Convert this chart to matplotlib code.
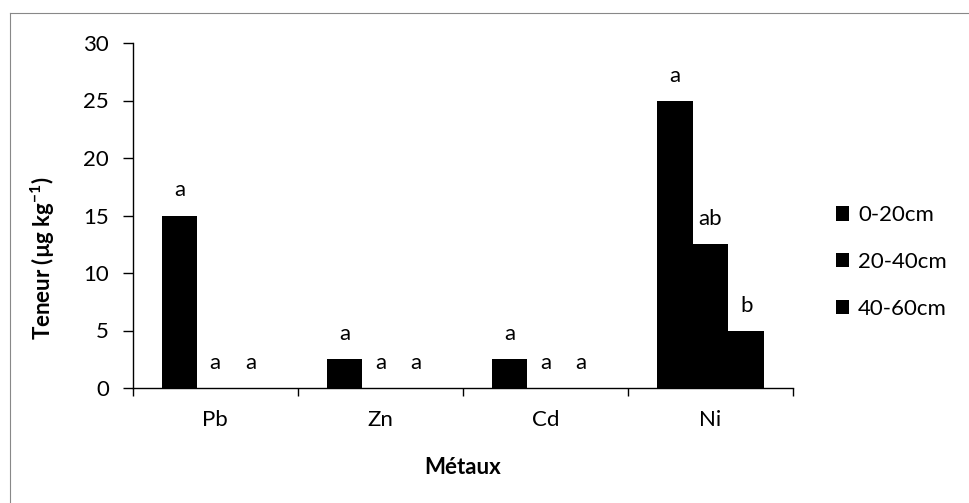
import matplotlib
matplotlib.use("Agg")
import matplotlib.pyplot as plt
import numpy as np
from matplotlib.lines import Line2D
from matplotlib.patches import Patch

plt.rcParams['font.family'] = ['Lato', 'DejaVu Sans']
plt.rcParams['mathtext.fontset'] = 'custom'
plt.rcParams['mathtext.rm'] = 'Lato'
plt.rcParams['mathtext.bf'] = 'Lato:bold'

categories = ["Pb", "Zn", "Cd", "Ni"]
series_names = ["0-20cm", "20-40cm", "40-60cm"]
v_0_20 = [15, 2.5, 2.5, 25]
v_20_40 = [0, 0, 0, 12.5]
v_40_60 = [0, 0, 0, 5]
letters_0_20 = ["a", "a", "a", "a"]
letters_20_40 = ["a", "a", "a", "ab"]
letters_40_60 = ["a", "a", "a", "b"]
yticks = [0, 5, 10, 15, 20, 25, 30]

FS = 16
W, H = 969, 503
fig = plt.figure(figsize=(W / 100, H / 100), dpi=100)
ax = fig.add_axes([132.7 / W, 1 - 388 / H, (793 - 132.7) / W, (388 - 43) / H])

x = np.arange(len(categories))
bw = 0.217
series = [v_0_20, v_20_40, v_40_60]
letters = [letters_0_20, letters_20_40, letters_40_60]
offsets = [-bw, 0, bw]
for vals, lets, off, name in zip(series, letters, offsets, series_names):
    ax.bar(x + off, vals, width=bw, color='black', edgecolor='none', label=name)
    for xi, v, l in zip(x, vals, lets):
        ax.annotate(l, (xi + off, v), xytext=(0, 18), textcoords='offset points',
                    ha='center', va='center', fontsize=FS, color='black')

ax.set_xlim(-0.5, len(categories) - 0.5)
ax.set_ylim(0, 30)
ax.set_yticks(yticks)
ax.set_xticks(x)
ax.set_xticklabels(categories)
ax.set_xticks(np.arange(len(categories) + 1) - 0.5, minor=True)
ax.tick_params(axis='x', which='major', length=0, pad=16, labelsize=FS)
ax.tick_params(axis='x', which='minor', length=6, direction='out', width=1)
ax.tick_params(axis='y', which='major', length=7, direction='out', width=1, pad=10, labelsize=FS)
for s in ['top', 'right']:
    ax.spines[s].set_visible(False)
for s in ['left', 'bottom']:
    ax.spines[s].set_linewidth(1)
    ax.spines[s].set_color('black')

fig.text(463 / W, 1 - 468 / H, "Métaux", ha='center', va='center', fontsize=FS, fontweight='bold')
fig.text(43 / W, 1 - 258 / H, r"Teneur (µg kg$^{\mathbf{-1}}$)", ha='center', va='center',
         rotation=90, fontsize=FS, fontweight='bold')

handles = [Patch(facecolor='black', edgecolor='none') for _ in series_names]
fig.legend(handles, series_names, loc='center left', bbox_to_anchor=(836 / W, 1 - 262 / H),
           frameon=False, fontsize=FS, handlelength=0.6, handleheight=0.6,
           handletextpad=0.4, labelspacing=1.2, borderpad=0, borderaxespad=0)

# outer chart border (gray thin lines)
fig.add_artist(Line2D([10 / W, 10 / W], [0, 1 - 13 / H], transform=fig.transFigure, color='#888888', lw=0.8))
fig.add_artist(Line2D([10 / W, 1], [1 - 13 / H, 1 - 13 / H], transform=fig.transFigure, color='#888888', lw=0.8))

fig.savefig("out.png", dpi=100)
